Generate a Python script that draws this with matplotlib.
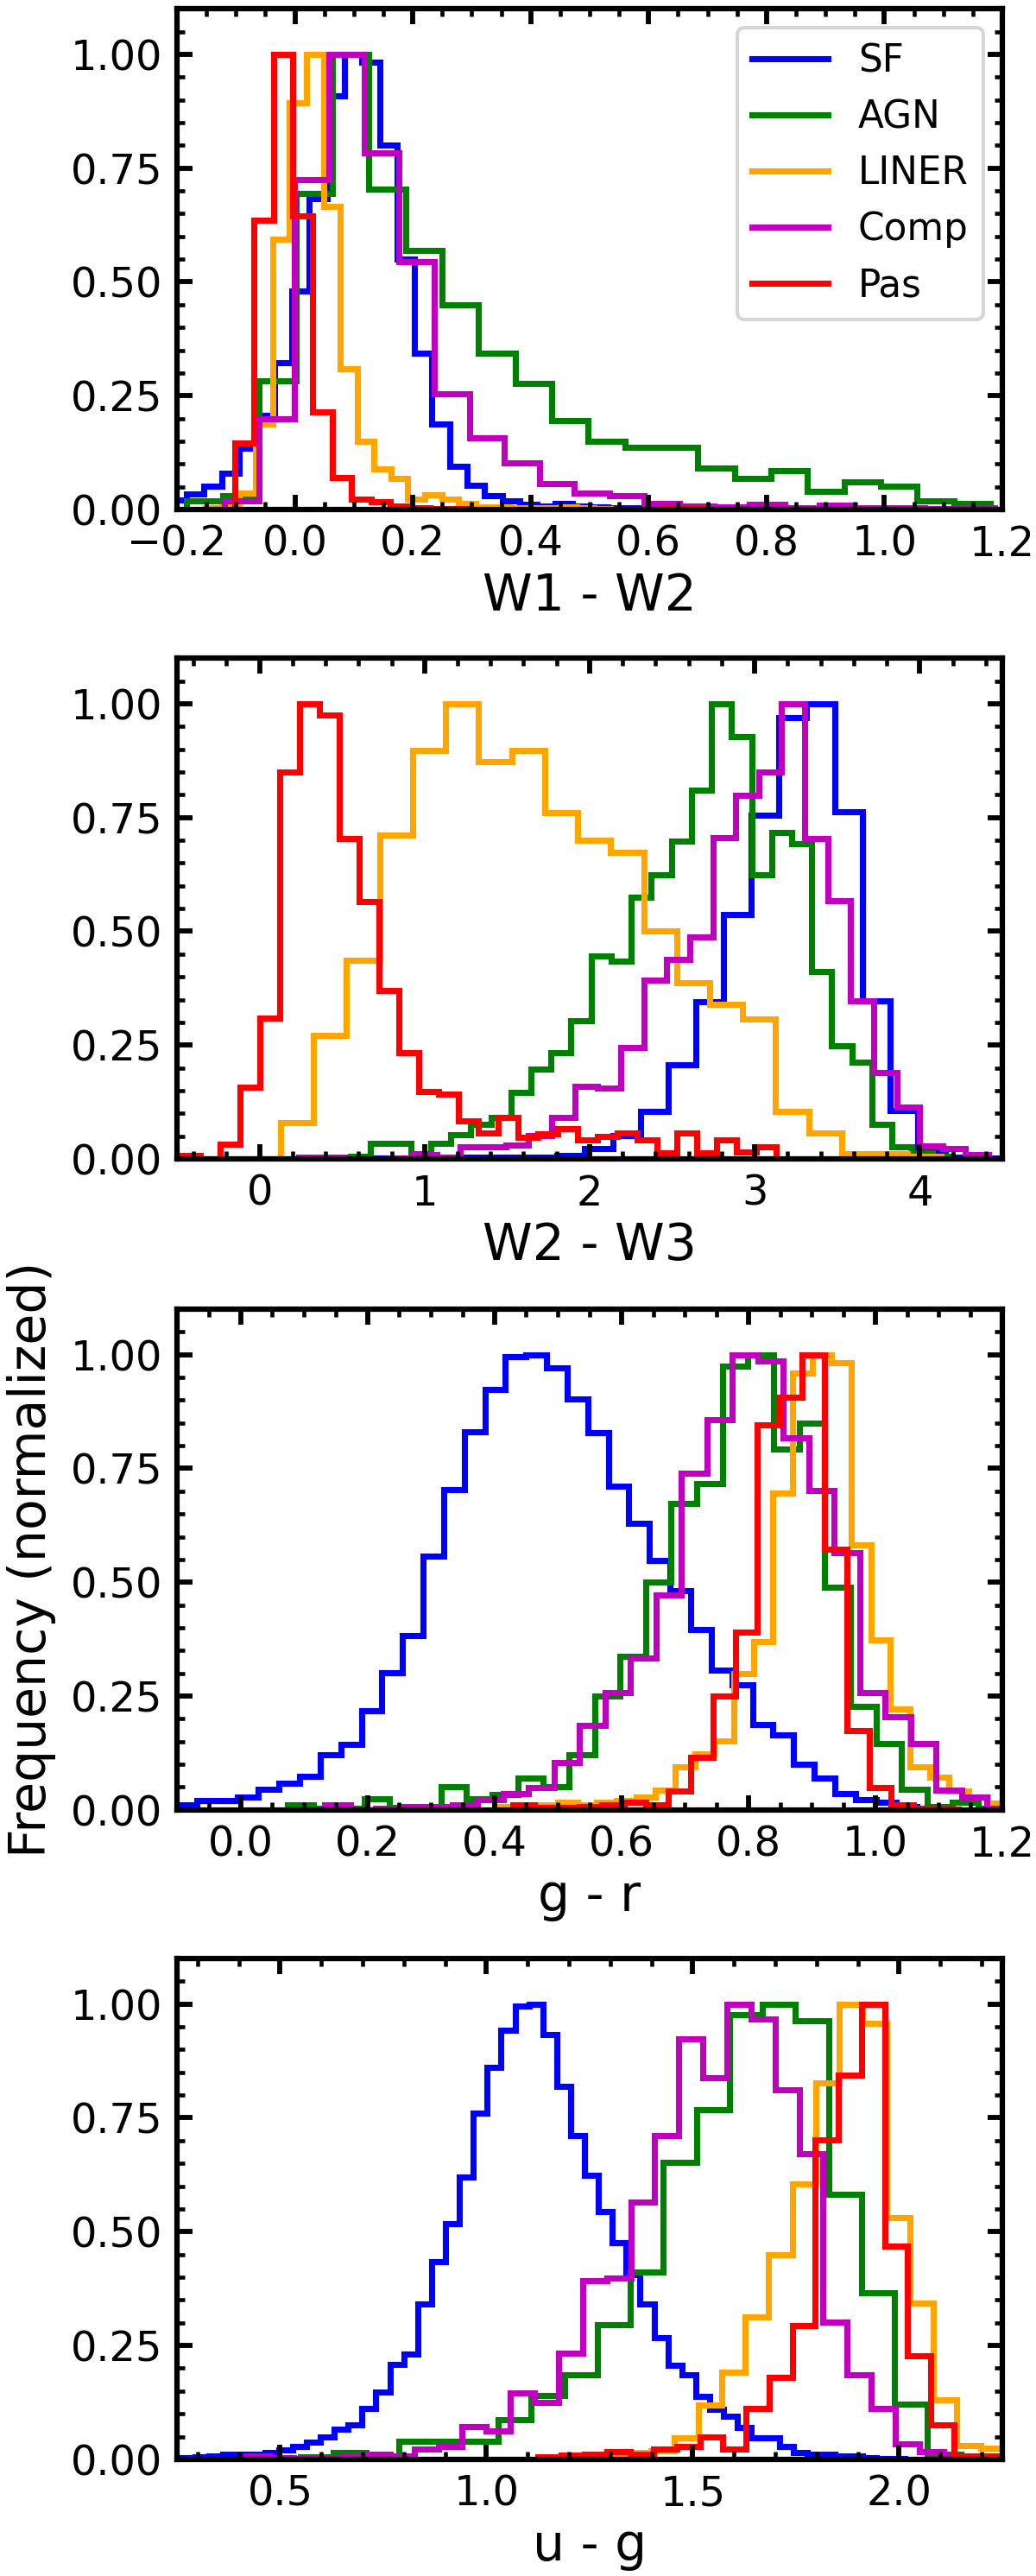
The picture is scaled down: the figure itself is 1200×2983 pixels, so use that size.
import numpy as np
import matplotlib
matplotlib.use("Agg")
import matplotlib.pyplot as plt
from matplotlib.ticker import MultipleLocator

classes = ['SF', 'AGN', 'LINER', 'Comp', 'Pas']
colors = ['blue', 'green', 'orange', 'm', 'red']

# ---- W1 - W2 : normalized counts per bin, first bin edge, bin width
w12_sf = [0.02, 0.034, 0.052, 0.08, 0.135, 0.207, 0.323, 0.48, 0.683, 0.909, 1.0, 0.983,
          0.80, 0.55, 0.344, 0.188, 0.095, 0.054, 0.031, 0.019, 0.012, 0.008, 0.014, 0.008,
          0.006, 0.004, 0.003]
w12_agn = [0.019, 0.031, 0.283, 0.695, 1.0, 0.704, 0.569, 0.45, 0.344, 0.277, 0.196, 0.15,
           0.137, 0.137, 0.092, 0.069, 0.086, 0.04, 0.061, 0.052, 0.019, 0.014]
w12_liner = [0.004, 0.006, 0.037, 0.188, 0.594, 0.894, 1.0, 0.666, 0.31, 0.15, 0.09, 0.069,
             0.023, 0.033, 0.023, 0.014, 0.006, 0.005, 0.004, 0.003, 0.004, 0.006, 0.004, 0.002]
w12_comp = [0.019, 0.2, 0.725, 1.0, 0.784, 0.545, 0.254, 0.157, 0.103, 0.057, 0.037, 0.031,
            0.014, 0.008, 0.006, 0.012, 0.004, 0.01, 0.004, 0.003, 0.002, 0.003]
w12_pas = [0.147, 0.636, 1.0, 0.645, 0.215, 0.071, 0.023, 0.017, 0.008, 0.003, 0.002, 0.002,
           0.001, 0.001, 0.001, 0.001, 0.001, 0.001, 0.001, 0.001, 0.001, 0.001, 0.003, 0.002]
w12_lo = [-0.2135, -0.1845, -0.1521, -0.12, -0.1025]
w12_bw = [0.02975, 0.062, 0.02865, 0.0594, 0.0331]

# ---- W2 - W3
w23_sf = [0.001, 0.001, 0.002, 0.002, 0.002, 0.003, 0.003, 0.003, 0.004, 0.007, 0.023, 0.051,
          0.105, 0.206, 0.346, 0.536, 0.756, 0.97, 1.0, 0.762, 0.348, 0.107, 0.017, 0.004, 0.002]
w23_agn = [0.005, 0.035, 0.035, 0.011, 0.035, 0.054, 0.076, 0.092, 0.146, 0.197, 0.233, 0.304,
           0.446, 0.434, 0.574, 0.625, 0.698, 0.81, 1.0, 0.927, 0.625, 0.718, 0.693, 0.412,
           0.249, 0.212, 0.076, 0.026, 0.014, 0.006]
w23_liner = [0.08, 0.271, 0.437, 0.711, 0.897, 1.0, 0.872, 0.897, 0.761, 0.70, 0.673, 0.5,
             0.388, 0.339, 0.307, 0.105, 0.057, 0.011, 0.011, 0.006]
w23_comp = [0.004, 0.004, 0.001, 0.001, 0.002, 0.009, 0.004, 0.026, 0.026, 0.03, 0.051, 0.092,
            0.159, 0.156, 0.245, 0.393, 0.438, 0.488, 0.706, 0.798, 0.849, 1.0, 0.703, 0.567,
            0.348, 0.19, 0.114, 0.029, 0.022, 0.01]
w23_pas = [0.007, 0.0, 0.032, 0.157, 0.31, 0.849, 1.0, 0.975, 0.703, 0.566, 0.37, 0.234, 0.149,
           0.143, 0.083, 0.057, 0.092, 0.048, 0.055, 0.066, 0.041, 0.049, 0.057, 0.041, 0.013,
           0.057, 0.013, 0.041, 0.016, 0.026]
w23_lo = [0.291, 0.551, 0.127, 0.238, -0.480]
w23_bw = [0.168, 0.1215, 0.2, 0.1393, 0.1204]

# ---- g - r
gr_sf = [0.012, 0.02, 0.02, 0.029, 0.045, 0.059, 0.074, 0.121, 0.143, 0.217, 0.301, 0.383,
         0.558, 0.703, 0.83, 0.924, 0.996, 1.0, 0.971, 0.902, 0.828, 0.712, 0.629, 0.547,
         0.482, 0.397, 0.307, 0.275, 0.188, 0.164, 0.101, 0.069, 0.035, 0.022, 0.017, 0.007,
         0.003, 0.002]
gr_agn = [0.011, 0.004, 0.004, 0.025, 0.005, 0.005, 0.051, 0.025, 0.033, 0.069, 0.051, 0.121,
          0.25, 0.338, 0.5, 0.674, 0.717, 0.975, 1.0, 0.793, 0.85, 0.489, 0.227, 0.145, 0.045,
          0.007, 0.017, 0.003]
gr_liner = [0.007, 0.011, 0.011, 0.017, 0.011, 0.017, 0.02, 0.029, 0.043, 0.094, 0.123, 0.152,
            0.299, 0.37, 0.696, 0.96, 1.0, 0.982, 0.583, 0.373, 0.222, 0.094, 0.072, 0.041,
            0.029, 0.014]
gr_comp = [0.011, 0.0, 0.004, 0.007, 0.007, 0.011, 0.022, 0.036, 0.049, 0.105, 0.185, 0.257,
           0.333, 0.473, 0.739, 0.857, 1.0, 0.987, 0.817, 0.701, 0.565, 0.257, 0.205, 0.145,
           0.043, 0.029, 0.003]
gr_pas = [0.011, 0.006, 0.006, 0.008, 0.011, 0.017, 0.012, 0.041, 0.116, 0.25, 0.391, 0.846,
          0.906, 1.0, 0.572, 0.174, 0.049, 0.011, 0.003, 0.002]
gr_lo = [-0.1014, 0.074, 0.4075, 0.133, 0.4284]
gr_bw = [0.03242, 0.0403, 0.0308, 0.0401, 0.0351]

# ---- u - g
ug_sf = [0.003, 0.004, 0.006, 0.008, 0.011, 0.011, 0.011, 0.014, 0.02, 0.029, 0.038, 0.049,
         0.067, 0.076, 0.111, 0.147, 0.208, 0.232, 0.342, 0.435, 0.517, 0.62, 0.761, 0.861,
         0.942, 0.995, 1.0, 0.933, 0.819, 0.712, 0.623, 0.545, 0.475, 0.406, 0.342, 0.268,
         0.207, 0.185, 0.138, 0.11, 0.094, 0.069, 0.047, 0.047, 0.029, 0.014, 0.011, 0.011,
         0.007, 0.007, 0.003, 0.002, 0.002]
ug_agn = [0.005, 0.014, 0.004, 0.04, 0.04, 0.04, 0.087, 0.141, 0.185, 0.296, 0.411, 0.652,
          0.768, 0.976, 1.0, 0.964, 0.582, 0.366, 0.121, 0.011, 0.003]
ug_liner = [0.004, 0.007, 0.007, 0.014, 0.018, 0.047, 0.12, 0.192, 0.312, 0.449, 0.605, 0.826,
            1.0, 0.957, 0.531, 0.344, 0.13, 0.031, 0.025]
ug_comp = [0.008, 0.004, 0.002, 0.002, 0.007, 0.011, 0.007, 0.022, 0.029, 0.072, 0.062, 0.145,
           0.125, 0.234, 0.393, 0.399, 0.565, 0.712, 0.924, 0.838, 1.0, 0.967, 0.812, 0.672,
           0.301, 0.185, 0.112, 0.034, 0.017, 0.007]
ug_pas = [0.005, 0.009, 0.011, 0.017, 0.011, 0.022, 0.029, 0.049, 0.022, 0.111, 0.18, 0.293,
          0.701, 0.844, 1.0, 0.469, 0.227, 0.076, 0.007, 0.007]
ug_lo = [0.2266, 0.5487, 1.1708, 0.4167, 1.1249]
ug_bw = [0.0337, 0.08, 0.057, 0.0583, 0.056]

panels = [
    ([w12_sf, w12_agn, w12_liner, w12_comp, w12_pas], w12_lo, w12_bw,
     'W1 - W2', (-0.2, 1.2), 0.2, 0.05),
    ([w23_sf, w23_agn, w23_liner, w23_comp, w23_pas], w23_lo, w23_bw,
     'W2 - W3', (-0.5, 4.5), 1.0, 0.2),
    ([gr_sf, gr_agn, gr_liner, gr_comp, gr_pas], gr_lo, gr_bw,
     'g - r', (-0.1, 1.2), 0.2, 0.05),
    ([ug_sf, ug_agn, ug_liner, ug_comp, ug_pas], ug_lo, ug_bw,
     'u - g', (0.25, 2.25), 0.5, 0.1),
]

fig = plt.figure(figsize=(4, 2983 / 300), dpi=300)
bottoms = [0.8022, 0.5501, 0.2974, 0.0453]
axes = []
for (series, lo, bw, xlabel, xlim, major, minor), b in zip(panels, bottoms):
    ax = fig.add_axes([0.1708, b, 0.7967, 0.1944])
    for vals, x0, w, name, c in zip(series, lo, bw, classes, colors):
        edges = x0 + w * np.arange(len(vals) + 1)
        ax.stairs(vals, edges, color=c, lw=1.7, label=name)
    ax.set_xlim(*xlim)
    ax.set_ylim(0, 1.1)
    ax.xaxis.set_major_locator(MultipleLocator(major))
    ax.xaxis.set_minor_locator(MultipleLocator(minor))
    ax.yaxis.set_major_locator(MultipleLocator(0.25))
    ax.yaxis.set_minor_locator(MultipleLocator(0.05))
    ax.tick_params(which='both', direction='in', top=True, right=True, labelsize=11.5, pad=4)
    ax.tick_params(which='major', length=4.2, width=1.4)
    ax.tick_params(which='minor', length=2.2, width=1.1)
    for s in ax.spines.values():
        s.set_linewidth(1.5)
    ax.set_xlabel(xlabel, fontsize=14, labelpad=2)
    axes.append(ax)

axes[0].legend(loc='upper right', fontsize=10.5)
axes[2].set_ylabel('Frequency (normalized)', fontsize=14)

fig.savefig('out.png', dpi=300)
